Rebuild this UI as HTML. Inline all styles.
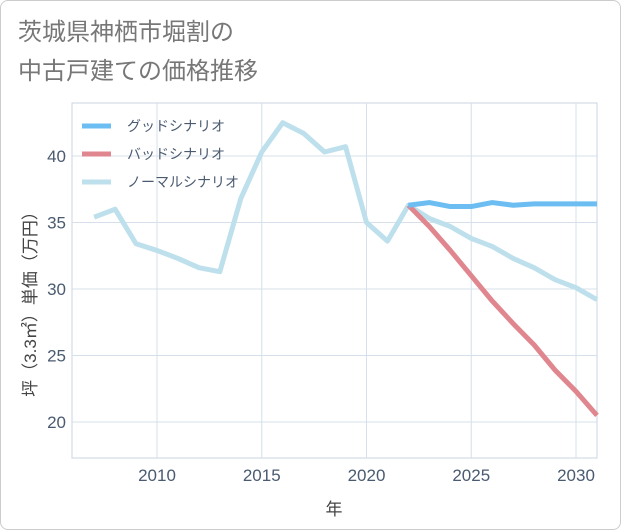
<!DOCTYPE html>
<html><head><meta charset="utf-8"><style>
body{margin:0;background:#fff;font-family:"Liberation Sans","Noto Sans CJK JP",sans-serif;}
#card{position:absolute;left:0;top:0;width:619px;height:528px;border:1px solid #ccc;border-radius:8px;background:#fff;}
</style></head><body>
<div id="card">
<svg id="svg" width="621" height="530" style="position:absolute;left:-1px;top:-1px">
<text x="18" y="40" font-size="24" fill="#777">茨城県神栖市堀割の</text>
<text x="18" y="79" font-size="24" fill="#777">中古戸建ての価格推移</text>
<g id="grid"></g>
<g id="lines"></g>
<g id="legend"></g>
<text x="334" y="515" font-size="17" fill="#444" text-anchor="middle">年</text>
<text transform="translate(36,300) rotate(-90)" font-size="17" fill="#444" text-anchor="middle">坪（3.3㎡）単価（万円）</text>
</svg></div>
<script>
const years=[2007,2008,2009,2010,2011,2012,2013,2014,2015,2016,2017,2018,2019,2020,2021,2022,2023,2024,2025,2026,2027,2028,2029,2030,2031];
const normal=[35.4,36.0,33.4,32.9,32.3,31.6,31.3,36.8,40.3,42.5,41.7,40.3,40.7,35.0,33.6,36.3,35.3,34.7,33.8,33.2,32.3,31.6,30.7,30.1,29.2];
const futureYears=[2022,2023,2024,2025,2026,2027,2028,2029,2030,2031];
const good=[36.3,36.5,36.2,36.2,36.5,36.3,36.4,36.4,36.4,36.4];
const bad=[36.3,34.7,32.9,31.0,29.1,27.4,25.8,23.9,22.3,20.5];
const xTicks=[2010,2015,2020,2025,2030];
const yTicks=[20,25,30,35,40];
const L=72,R=597,T=103,B=458;
const xs=y=>157+(y-2010)*(576-157)/20;
const ys=v=>422-(v-20)*(422-156)/20;
const NS="http://www.w3.org/2000/svg";
function mk(t,a,p){const e=document.createElementNS(NS,t);for(const k in a)e.setAttribute(k,a[k]);p.appendChild(e);return e;}
const g=document.getElementById('grid');
const frame=mk('rect',{x:L,y:T,width:R-L,height:B-T,fill:'none',stroke:'#c8d4e0'},g);


xTicks.forEach(t=>{const l=mk('line',{x1:xs(t),x2:xs(t),y1:T,y2:B,stroke:'#d5e0ea'},g);


const tx=mk('text',{x:xs(t),y:481,'font-size':17,fill:'#4a5a70','text-anchor':'middle'},g);tx.textContent=t;

});
yTicks.forEach(t=>{const l=mk('line',{x1:L,x2:R,y1:ys(t),y2:ys(t),stroke:'#d5e0ea'},g);


const tx=mk('text',{x:66,y:ys(t)+6,'font-size':17,fill:'#4a5a70','text-anchor':'end'},g);tx.textContent=t;

});
const ln=document.getElementById('lines');
function series(xv,yv,c,n){const p=mk('polyline',{points:xv.map((x,i)=>xs(x)+','+ys(yv[i])).join(' '),fill:'none',stroke:c,'stroke-width':5,'stroke-linejoin':'round'},ln);

}
series(years,normal,'#bde0ec','normal-line');
series(futureYears,bad,'#e0868f','bad-line');
series(futureYears,good,'#6bbdf2','good-line');
const lg=document.getElementById('legend');
[['グッドシナリオ','#6bbdf2'],['バッドシナリオ','#e0868f'],['ノーマルシナリオ','#bde0ec']].forEach((d,i)=>{
const y=126+i*28;
const l=mk('line',{x1:82,x2:111,y1:y,y2:y,stroke:d[1],'stroke-width':5},lg);


const t=mk('text',{x:127,y:y+5,'font-size':14,fill:'#4a5a70'},lg);t.textContent=d[0];

});
</script>
</body></html>
